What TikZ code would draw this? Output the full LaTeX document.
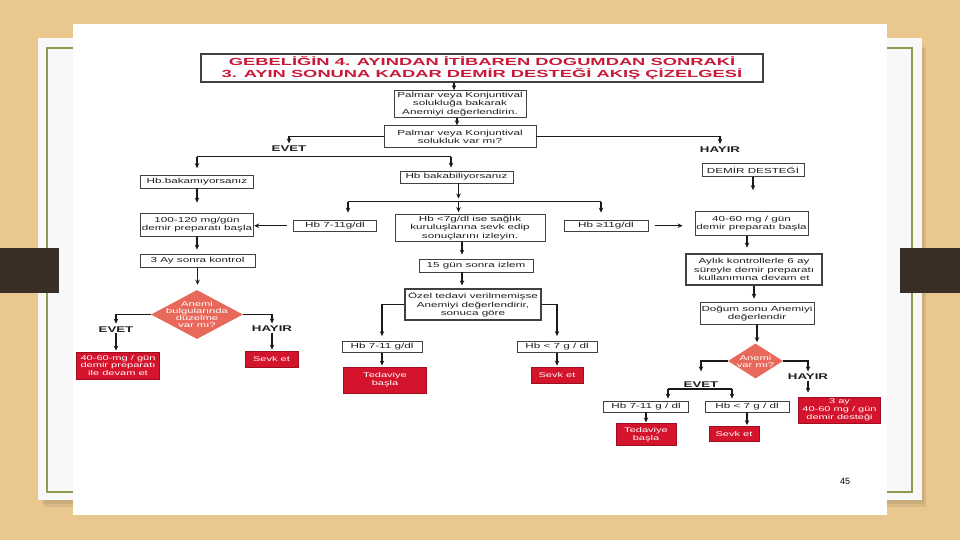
\documentclass[tikz,border=0pt]{standalone}
\usepackage{fontspec}
\setmainfont{Liberation Sans}
\newfontfamily\flowfont[FakeStretch=1.6]{Liberation Sans}
\newfontfamily\titlefont[FakeStretch=1.78]{Liberation Sans}
\usetikzlibrary{shapes.geometric, arrows.meta}

\definecolor{woodtan}{HTML}{EBC790}
\definecolor{slidewhite}{HTML}{F8F8F8}
\definecolor{slidegreen}{HTML}{8C9A52}
\definecolor{tabbrown}{HTML}{3A2F27}
\definecolor{boxline}{HTML}{404040}
\definecolor{textgray}{HTML}{1E1E1E}
\definecolor{linedark}{HTML}{1A1A1A}
\definecolor{redfill}{HTML}{D3142C}
\definecolor{reddark}{HTML}{9E0E1E}
\definecolor{salmon}{HTML}{E8695B}
\definecolor{titlered}{HTML}{C8193A}

\newcommand{\flowtxt}{\flowfont\fontsize{7.3}{8.4}\selectfont}
\newcommand{\redtxt}{\flowfont\fontsize{6.9}{7.8}\selectfont}
\newcommand{\titletxt}{\titlefont\bfseries\fontsize{10.3}{12.7}\selectfont}

\begin{document}
\begin{tikzpicture}[x=1pt, y=-1pt, line width=0.5pt,
  box/.style={draw=boxline, line width=0.8pt, fill=white, align=center, inner sep=0pt, text=textgray, font=\flowtxt},
  thickbox/.style={box, line width=1.6pt},
  redbox/.style={draw=reddark, line width=0.8pt, fill=redfill, align=center, inner sep=0pt, text=white, font=\redtxt},
  decision/.style={diamond, fill=salmon, inner sep=0pt},
  dtext/.style={align=center, inner sep=0pt, text=white, font=\flowfont\fontsize{7}{7}\selectfont},
  yesno/.style={inner sep=0.5pt, text=textgray, font=\flowfont\bfseries\fontsize{8.3}{9}\selectfont},
  arr/.style={-{Stealth[length=5pt, width=4.5pt]}, line width=1.2pt, draw=linedark},
  link/.style={line width=1.2pt, draw=linedark}]
  \useasboundingbox (0,0) rectangle (960,540);
  % slide background
  \fill[woodtan] (0,0) rectangle (960,540);
  \fill[black, opacity=0.08] (44,48) rectangle (926,507);
  \fill[black, opacity=0.06] (42,46) rectangle (924,504);
  \fill[slidewhite] (38,38) rectangle (922,500);
  \draw[slidegreen, line width=2.2pt] (47,48) rectangle (912,492);
  \fill[tabbrown] (0,248) rectangle (59,293);
  \fill[tabbrown] (900,248) rectangle (960,293);
  \fill[white] (73,24) rectangle (887,515);

  % top
  \node[box, line width=1.3pt, minimum width=562pt, minimum height=28pt, font=\titletxt, text=titlered] (title) at (482,68)
    {GEBELİĞİN 4. AYINDAN İTİBAREN DOGUMDAN SONRAKİ\\3. AYIN SONUNA KADAR DEMİR DESTEĞİ AKIŞ ÇİZELGESİ};
  \node[box, minimum width=132pt, minimum height=27pt] (look) at (460,104)
    {Palmar veya Konjuntival\\solukluğa bakarak\\Anemiyi değerlendirin.};
  \node[box, minimum width=152pt, minimum height=22pt] (ask) at (460,136.7)
    {Palmar veya Konjuntival\\solukluk var mı?};
  \node[yesno] (evetA) at (289,149) {EVET};
  \node[yesno] (hayirA) at (720,149.5) {HAYIR};
  \coordinate (splitL) at (197,156.7);
  \coordinate (splitR) at (451,156.7);

  % left column
  \node[box, minimum width=113.5pt, minimum height=12.4pt] (nohb) at (197,181.8) {Hb.bakamıyorsanız};
  \node[box, minimum width=113.5pt, minimum height=23pt] (highdose) at (197,224.5) {100-120 mg/gün\\demir preparatı başla};
  \node[box, minimum width=115pt, minimum height=13pt] (check) at (197.5,260.5) {3 Ay sonra kontrol};
  \node[decision, minimum width=92pt, minimum height=49pt,
    label={[dtext]center:{Anemi\\bulgularında\\düzelme\\var mı?}}] (improve) at (197,314.5) {};
  \node[yesno] (evetB) at (116,329.3) {EVET};
  \node[yesno] (hayirB) at (272,329) {HAYIR};
  \node[redbox, minimum width=83pt, minimum height=27pt] (keepdose) at (118,365.5) {40-60-mg / gün\\demir preparatı\\ile devam et};
  \node[redbox, minimum width=53pt, minimum height=16pt] (referA) at (271.5,359) {Sevk et};

  % middle column
  \node[box, minimum width=113pt, minimum height=12pt] (yeshb) at (456.5,177) {Hb bakabiliyorsanız};
  \coordinate (midL) at (348,201.5);
  \coordinate (midC) at (458.5,201.5);
  \coordinate (midR) at (601,201.5);
  \coordinate (spine) at (462,0);
  \node[box, minimum width=83.5pt, minimum height=11.4pt] (midhb) at (335,225.7) {Hb 7-11g/dl};
  \node[box, minimum width=150pt, minimum height=27.4pt] (lowhb) at (470,227.7)
    {Hb <7g/dl ise sağlık\\kuruluşlarına sevk edip\\sonuçlarını izleyin.};
  \node[box, minimum width=84pt, minimum height=11.4pt] (okhb) at (606,225.7) {Hb ≥11g/dl};
  \node[box, minimum width=114pt, minimum height=13pt] (followup) at (476,265.5) {15 gün sonra izlem};
  \node[thickbox, minimum width=136pt, minimum height=31pt] (special) at (473,304.7)
    {Özel tedavi verilmemişse\\Anemiyi değerlendirir,\\sonuca göre};
  \node[box, minimum width=80pt, minimum height=11pt] (midhbB) at (382,347) {Hb 7-11 g/dl};
  \node[box, minimum width=80pt, minimum height=11pt] (lowhbB) at (557,347) {Hb < 7 g / dl};
  \node[redbox, minimum width=83pt, minimum height=26pt] (treatA) at (385,380) {Tedaviye\\başla};
  \node[redbox, minimum width=52pt, minimum height=16pt] (referB) at (557,375) {Sevk et};

  % right column
  \node[box, minimum width=102pt, minimum height=12.3pt] (iron) at (753,170) {DEMİR DESTEĞİ};
  \node[box, minimum width=113pt, minimum height=24pt] (lowdose) at (751.5,223.5) {40-60 mg / gün\\demir preparatı başla};
  \node[thickbox, minimum width=136pt, minimum height=31pt] (monthly) at (754,269.5)
    {Aylık kontrollerle 6 ay\\süreyle demir preparatı\\kullanımına devam et};
  \node[box, minimum width=114pt, minimum height=21.3pt] (postpartum) at (757,313.4) {Doğum sonu Anemiyi\\değerlendir};
  \node[decision, minimum width=55pt, minimum height=35pt,
    label={[dtext]center:{Anemi\\var mı?}}] (anemia) at (755.5,361) {};
  \node[yesno] (evetC) at (701,385) {EVET};
  \node[yesno] (hayirC) at (808,377) {HAYIR};
  \coordinate (rightL) at (668,389);
  \coordinate (rightR) at (732,389);
  \node[box, minimum width=85pt, minimum height=11pt] (midhbC) at (646,406.5) {Hb 7-11 g / dl};
  \node[box, minimum width=84pt, minimum height=11pt] (lowhbC) at (747,406.5) {Hb < 7 g / dl};
  \node[redbox, minimum width=60pt, minimum height=21.4pt] (treatB) at (646,434.5) {Tedaviye\\başla};
  \node[redbox, minimum width=50pt, minimum height=15pt] (referC) at (734,434) {Sevk et};
  \node[redbox, minimum width=82pt, minimum height=26pt] (threemonth) at (839.5,410) {3 ay\\40-60 mg / gün\\demir desteği};

  \node[font=\fontsize{9}{10}\selectfont] (pagenum) at (845,481.5) {45};

  % connectors
  \draw[arr] ([xshift=-6pt]look.north |- title.south) -- ([xshift=-6pt]look.north);
  \draw[arr] ([xshift=-3pt]look.south) -- ([xshift=-3pt]ask.north);
  \draw[arr, shorten >=2pt] (ask.west) -| (evetA.north);
  \draw[arr, shorten >=2pt] (ask.east) -| (hayirA.north);
  \draw[link] (splitL) -- (splitR);
  \draw[arr, shorten >=7pt] (splitL) -- (splitL |- nohb.north);
  \draw[arr, shorten >=3pt] (splitR) -- (splitR |- yeshb.north);

  \draw[arr, shorten >=10pt] (nohb.south) -- (nohb.south |- highdose.north);
  \draw[arr, shorten >=4pt] (highdose.south) -- (highdose.south |- check.north);
  \draw[arr, shorten >=5pt] (check.south) -- (check.south |- improve.north);
  \draw[arr, shorten >=2pt] (improve.west) -| (evetB.north);
  \draw[arr, shorten >=1pt] (evetB.south) -- (evetB.south |- keepdose.north);
  \draw[arr, shorten >=2pt] (improve.east) -| (hayirB.north);
  \draw[arr, shorten >=1pt] (hayirB.south) -- (hayirB.south |- referA.north);

  \draw[arr, shorten >=3pt] (midC |- yeshb.south) -- (midC);
  \draw[link] (midL) -- (midR);
  \draw[arr, shorten >=7pt] (midL) -- (midL |- midhb.north);
  \draw[arr, shorten >=1.5pt] (midC) -- (midC |- lowhb.north);
  \draw[arr, shorten >=7pt] (midR) -- (midR |- okhb.north);
  \draw[arr, shorten <=6pt] (midhb.west) -- (midhb.west -| highdose.east);
  \draw[arr, shorten >=4pt] (spine |- lowhb.south) -- (spine |- followup.north);
  \draw[arr, shorten >=3pt] (spine |- followup.south) -- (spine |- special.north);
  \draw[arr, shorten >=5pt] (special.west) -| (midhbB.north);
  \draw[arr, shorten >=5pt] (special.east) -| (lowhbB.north);
  \draw[arr, shorten >=1pt] (midhbB.south) -- (midhbB.south |- treatA.north);
  \draw[arr, shorten >=1pt] (lowhbB.south) -- (lowhbB.south |- referB.north);

  \draw[arr, shorten >=21pt] (iron.south) -- (iron.south |- lowdose.north);
  \draw[arr, shorten <=7pt, shorten >=12pt] (okhb.east) -- (okhb.east -| lowdose.west);
  \draw[arr, shorten >=5.5pt] ([xshift=-4.5pt]lowdose.south) -- ([xshift=-4.5pt]lowdose.south |- monthly.north);
  \draw[arr, shorten >=3.7pt] (monthly.south) -- (monthly.south |- postpartum.north);
  \draw[arr, shorten >=1pt] (postpartum.south) -- (postpartum.south |- anemia.north);
  \draw[arr, shorten >=10pt] (anemia.west) -| (evetC.north);
  \draw[arr, shorten >=2pt] (anemia.east) -| (hayirC.north);
  \draw[arr, shorten >=4pt] (hayirC.south) -- (hayirC.south |- threemonth.north);
  \draw[link] (rightL) -- (rightR);
  \draw[arr, shorten >=2pt] (rightL) -- (rightL |- midhbC.north);
  \draw[arr, shorten >=2pt] (rightR) -- (rightR |- lowhbC.north);
  \draw[arr, shorten >=1pt] (midhbC.south) -- (midhbC.south |- treatB.north);
  \draw[arr, shorten >=1pt] (lowhbC.south) -- (lowhbC.south |- referC.north);
\end{tikzpicture}
\end{document}
